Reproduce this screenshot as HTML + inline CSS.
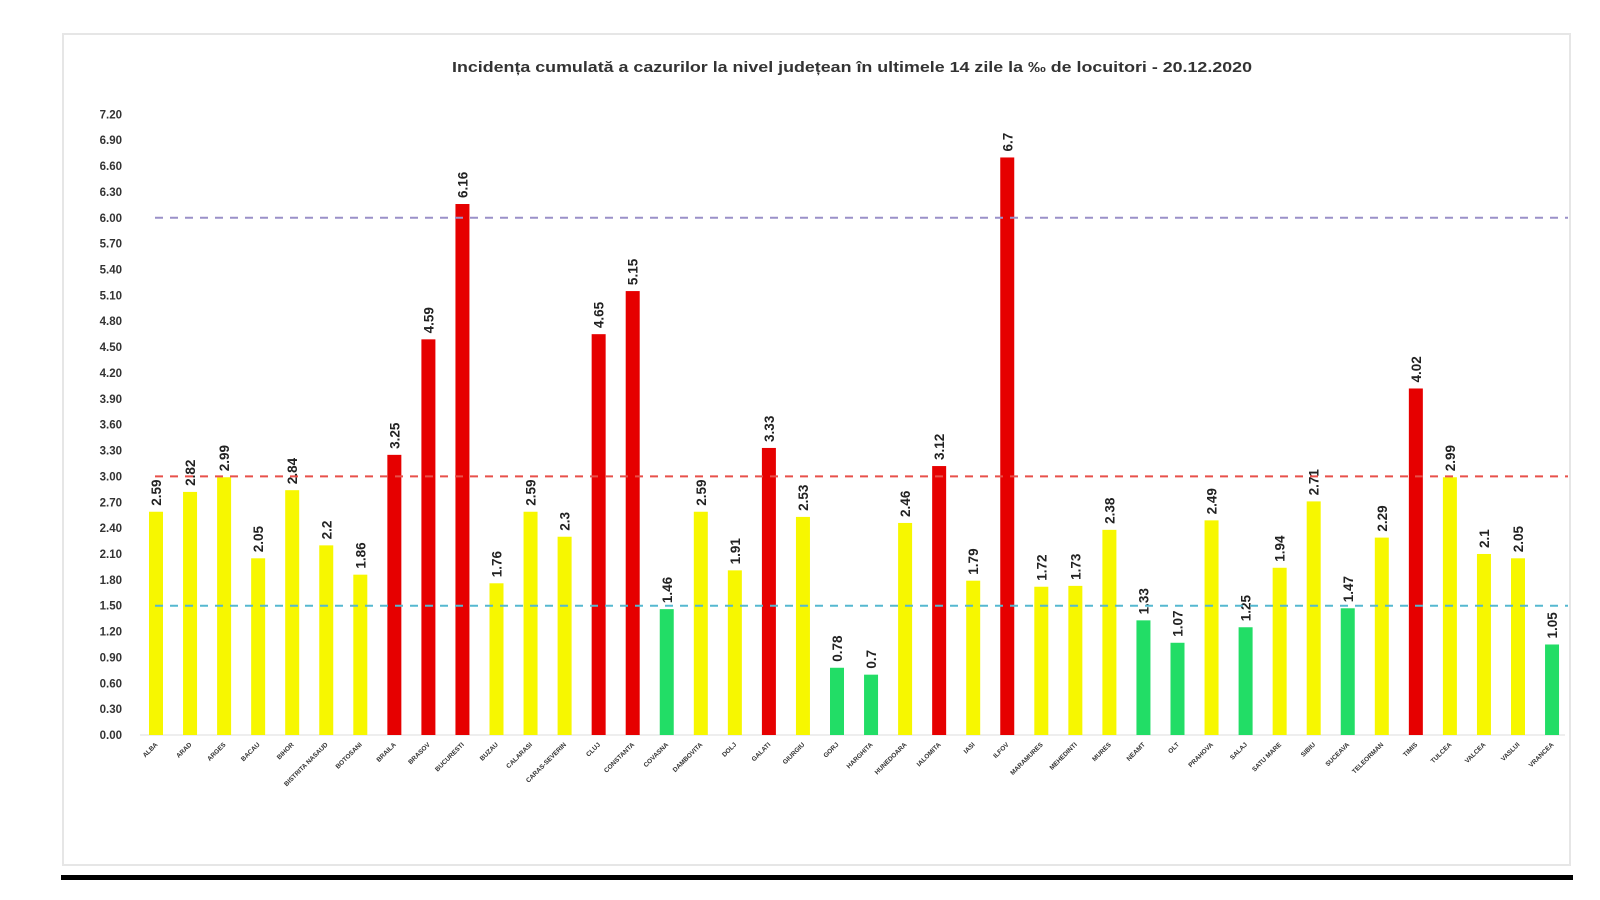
<!DOCTYPE html>
<html><head><meta charset="utf-8"><style>
html,body{margin:0;padding:0;background:#fff;}
svg{display:block;}
</style></head><body>
<svg width="1600" height="900" xmlns="http://www.w3.org/2000/svg" font-family="Liberation Sans, sans-serif">
<rect x="63" y="34" width="1507" height="831" fill="#fff" stroke="#e6e6e6" stroke-width="2"/>
<rect x="61" y="875" width="1512" height="5" fill="#000"/>
<text x="452" y="72" font-size="15" font-weight="bold" fill="#333" textLength="800" lengthAdjust="spacingAndGlyphs">Incidența cumulată a cazurilor la nivel județean în ultimele 14 zile la ‰ de locuitori - 20.12.2020</text>
<g id="chart"></g>
<script>
(function(){
var g=document.getElementById('chart');
var ns='http://www.w3.org/2000/svg';
function el(n,a,t){var e=document.createElementNS(ns,n);for(var k in a)e.setAttribute(k,a[k]);if(t!=null)e.textContent=t;g.appendChild(e);return e;}
var y0=735,s=86.2;
for(var i=0;i<=24;i++){var v=i*0.3;el('text',{x:122,y:y0-v*s+4,'text-anchor':'end','font-size':'11.5','font-weight':'bold',fill:'#333'},v.toFixed(2));}
el('line',{x1:140,y1:y0,x2:1565,y2:y0,stroke:'#ddd','stroke-width':1});
var d=[["ALBA",2.59],["ARAD",2.82],["ARGES",2.99],["BACAU",2.05],["BIHOR",2.84],["BISTRITA NASAUD",2.2],["BOTOSANI",1.86],["BRAILA",3.25],["BRASOV",4.59],["BUCURESTI",6.16],["BUZAU",1.76],["CALARASI",2.59],["CARAS-SEVERIN",2.3],["CLUJ",4.65],["CONSTANTA",5.15],["COVASNA",1.46],["DAMBOVITA",2.59],["DOLJ",1.91],["GALATI",3.33],["GIURGIU",2.53],["GORJ",0.78],["HARGHITA",0.7],["HUNEDOARA",2.46],["IALOMITA",3.12],["IASI",1.79],["ILFOV",6.7],["MARAMURES",1.72],["MEHEDINTI",1.73],["MURES",2.38],["NEAMT",1.33],["OLT",1.07],["PRAHOVA",2.49],["SALAJ",1.25],["SATU MARE",1.94],["SIBIU",2.71],["SUCEAVA",1.47],["TELEORMAN",2.29],["TIMIS",4.02],["TULCEA",2.99],["VALCEA",2.1],["VASLUI",2.05],["VRANCEA",1.05]];
d.forEach(function(r,i){
 var cx=156+i*34.05,v=r[1],h=v*s;
 var c=v>3?'#e60000':(v>1.5?'#f7f700':'#22dd66');
 el('rect',{x:cx-7,y:y0-h,width:14,height:h,fill:c});
 el('text',{transform:'translate('+(cx+5)+','+(y0-h-6)+') rotate(-90)','font-size':'13.5','font-weight':'bold',fill:'#222'},String(v));
 el('text',{transform:'translate('+(cx+2)+','+(y0+10)+') rotate(-45)','text-anchor':'end','font-size':'6.5','font-weight':'bold',fill:'#333'},r[0]);
});
function dash(v,c){el('line',{x1:155,y1:y0-v*s,x2:1568,y2:y0-v*s,stroke:c,'stroke-width':2,'stroke-dasharray':'8,7'});}
dash(6,'#9a90c8');dash(3,'#e8504a');dash(1.5,'#55b8d0');
})();
</script>
</svg>
</body></html>
